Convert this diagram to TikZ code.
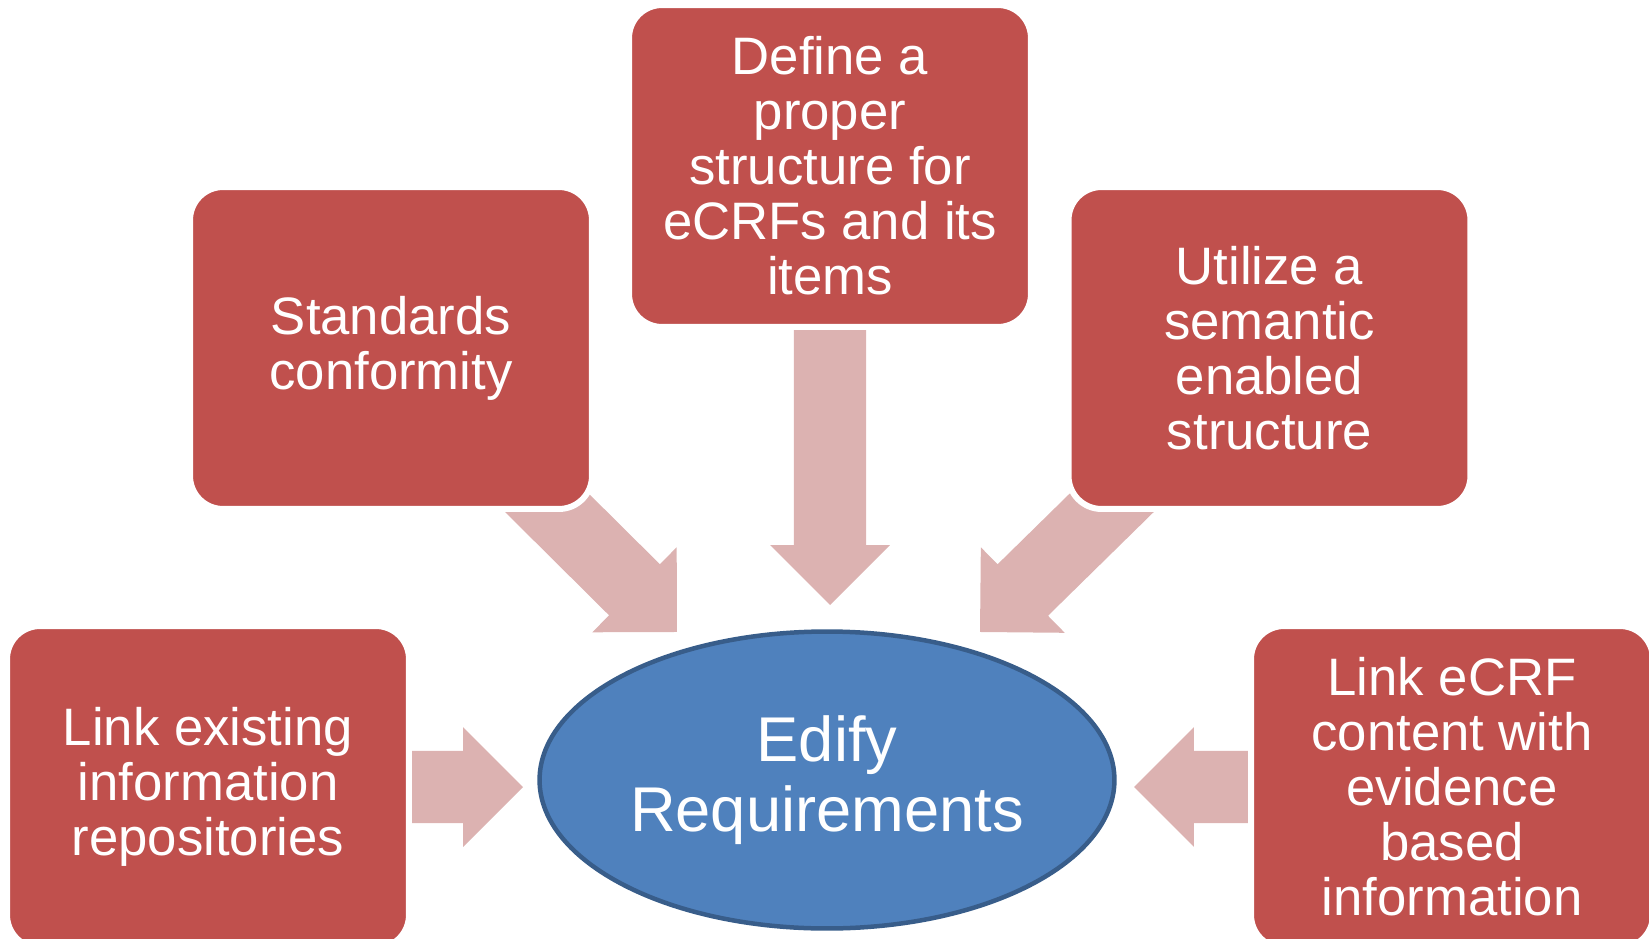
\documentclass[tikz,border=0pt]{standalone}
\usepackage{fontspec}
\setmainfont{Liberation Sans}
\usetikzlibrary{backgrounds,calc,shapes.geometric}

\definecolor{boxred}{HTML}{C0504D}
\definecolor{arrowpink}{HTML}{DCB2B1}
\definecolor{hubfill}{HTML}{4F81BD}
\definecolor{hubline}{HTML}{385D8A}

% wide block arrow from #1 to #2 (tip at #2)
\newcommand{\blockarrow}[2]{%
  \path let \p1=($(#2)-(#1)$), \n1={atan2(\y1,\x1)}, \n2={veclen(\x1,\y1)} in
    \pgfextra{\xdef\arrang{\n1}\xdef\arrlen{\n2}};
  \fill[arrowpink, shift={(#1)}, rotate=\arrang, x=1pt, y=1pt]
    (0,-20.5) -- ({\arrlen-34.1},-20.5) -- ({\arrlen-34.1},-34.1)
    -- (\arrlen,0) -- ({\arrlen-34.1},34.1) -- ({\arrlen-34.1},20.5)
    -- (0,20.5) -- cycle;
}

\begin{document}
\begin{tikzpicture}[x=0.02cm, y=-0.02cm,
    taskbox/.style={rectangle, rounded corners=0.66cm, fill=boxred, draw=white,
      line width=0.12cm, minimum width=8.04cm, minimum height=6.44cm, inner sep=0pt,
      text=white, align=center, font={\fontsize{30}{31.3}\selectfont}},
    hub/.style={ellipse, fill=hubfill, draw=hubline, line width=0.09cm,
      minimum width=11.5cm, minimum height=5.94cm, inner sep=0pt,
      text=white, align=center, font={\fontsize{36}{40}\selectfont}}]

    \useasboundingbox (0,0) rectangle (1649,939);

    \node[taskbox] (T) at (830,166) {Define a\\proper\\structure for\\eCRFs and its\\items};
    \node[taskbox] (S) at (391,348) {Standards\\conformity};
    \node[taskbox] (U) at (1269.5,348) {Utilize a\\semantic\\enabled\\structure};
    \node[taskbox] (L) at (208,787) {Link existing\\information\\repositories};
    \node[taskbox] (R) at (1452,787) {Link eCRF\\content with\\evidence\\based\\information};

    \node[hub] (E) at (827,780) {Edify\\Requirements};

    \coordinate (tipS) at (677,632);
    \coordinate (tipT) at (830,605);
    \coordinate (tipU) at (980,632);
    \coordinate (tipL) at (523,787);
    \coordinate (tipR) at (1134,787);

    \begin{scope}[on background layer]
        \blockarrow{S}{tipS}
        \blockarrow{T}{tipT}
        \blockarrow{U}{tipU}
        \blockarrow{L}{tipL}
        \blockarrow{R}{tipR}
    \end{scope}

\end{tikzpicture}
\end{document}
